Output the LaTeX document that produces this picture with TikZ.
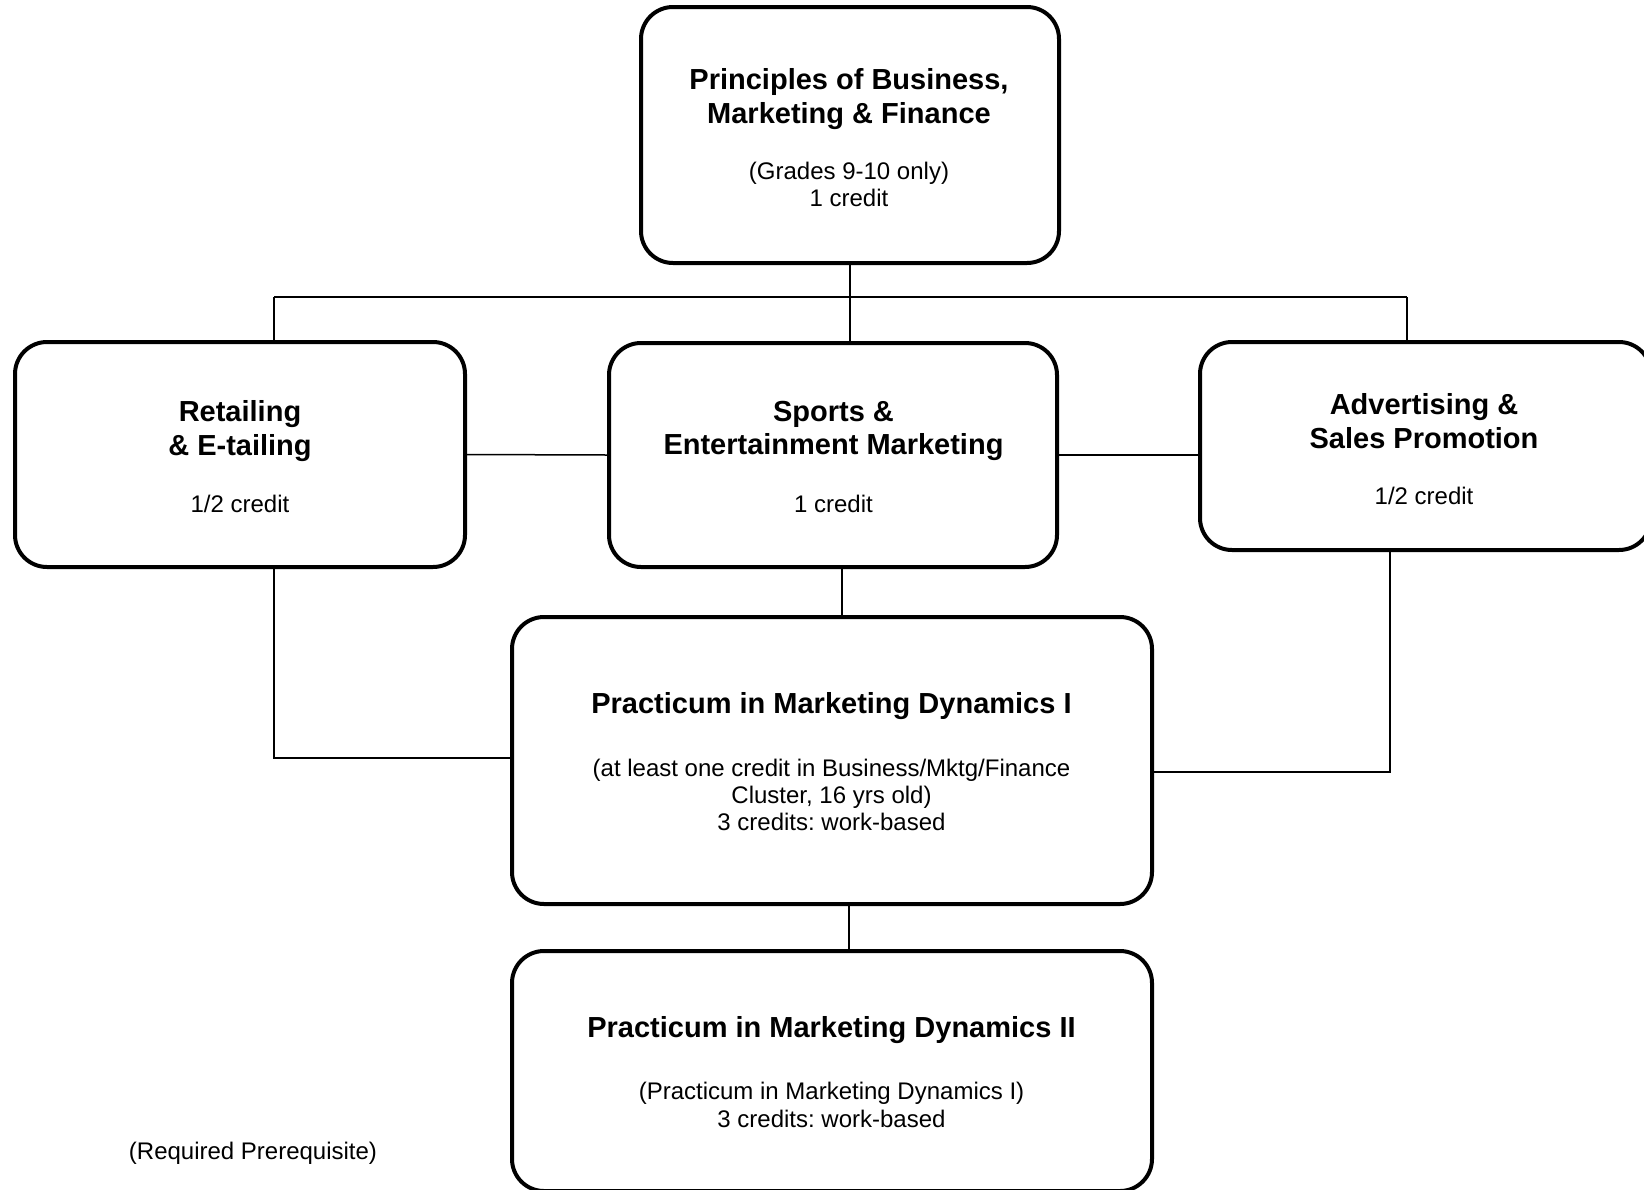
\documentclass[tikz,border=0pt]{standalone}
\usepackage{fontspec}
\setmainfont{Liberation Sans}
\frenchspacing
\newcommand{\titlefont}{\bfseries\fontsize{14.5}{16.75}\selectfont}
\newcommand{\bodyfont}{\fontsize{12}{13.6}\selectfont}
\tikzset{
  course/.style={draw, line width=2pt, rounded corners=16pt, inner sep=0pt},
  cname/.style={inner sep=0pt, align=center, font=\titlefont},
  cinfo/.style={inner sep=0pt, align=center, font=\bodyfont},
  link/.style={line width=0.75pt}
}
\begin{document}
\begin{tikzpicture}[x=0.5pt, y=-0.5pt]
  \useasboundingbox (0,0) rectangle (1644,1189);
  \node[course, minimum width=209pt, minimum height=128pt] (pbmf) at (850,135){};
  \node[cname] (pbmft) at (849,99){Principles of Business,\\Marketing \& Finance};
  \node[cinfo] (pbmfi) at (849,184.5){(Grades 9-10 only)\\1 credit};
  \node[course, minimum width=225pt, minimum height=112.5pt] (retail) at (240,454.5){};
  \node[cname] (retailt) at (240,431){Retailing\\\& E-tailing};
  \node[cinfo] (retaili) at (240,503.5){1/2 credit};
  \node[course, minimum width=224pt, minimum height=112pt] (sports) at (833,455){};
  \node[cname] (sportst) at (833.5,431){Sports \&\\Entertainment Marketing};
  \node[cinfo] (sportsi) at (833.5,503.5){1 credit};
  \node[course, minimum width=225.5pt, minimum height=104pt] (advert) at (1425.5,446){};
  \node[cname] (advertt) at (1424,421){Advertising \&\\Sales Promotion};
  \node[cinfo] (adverti) at (1424,495.5){1/2 credit};
  \node[course, minimum width=320pt, minimum height=143.5pt] (pmd1) at (832,760.5){};
  \node[cname] (pmd1t) at (831.5,706){Practicum in Marketing Dynamics I};
  \node[cinfo] (pmd1i) at (831.5,795){(at least one credit in Business/Mktg/Finance\\Cluster, 16 yrs old)\\3 credits: work-based};
  \node[course, minimum width=320pt, minimum height=120pt] (pmd2) at (832,1071){};
  \node[cname] (pmd2t) at (831.5,1030){Practicum in Marketing Dynamics II};
  \node[cinfo] (pmd2i) at (831.5,1105){(Practicum in Marketing Dynamics I)\\3 credits: work-based};
  \node[cinfo] (req) at (253,1153){(Required Prerequisite)};
  \coordinate (busL) at (274,297);
  \coordinate (busR) at (1407,297);
  \coordinate (busM) at (pbmf.south |- busL);
  \coordinate (retailD) at (274,758);
  \coordinate (advertD) at (1390,772);
  \draw[link](busL) -- (busR);
  \draw[link](pbmf.south) -- (busM);
  \draw[link](busM) -- (busM |- sports.north);
  \draw[link](busL) -- (busL |- retail.north);
  \draw[link](busR) -- (busR |- advert.north);
  \draw[link](retail.east) -- (sports.west);
  \draw[link](sports.east) -- (sports.east -| advert.west);
  \draw[link]([xshift=4.5pt]sports.south) -- ([xshift=4.5pt]sports.south |- pmd1.north);
  \draw[link](retailD |- retail.south) -- (retailD) -- (retailD -| pmd1.west);
  \draw[link](advertD |- advert.south) -- (advertD) -- (advertD -| pmd1.east);
  \draw[link]([xshift=8.5pt]pmd1.south) -- ([xshift=8.5pt]pmd1.south |- pmd2.north);
\end{tikzpicture}
\end{document}
